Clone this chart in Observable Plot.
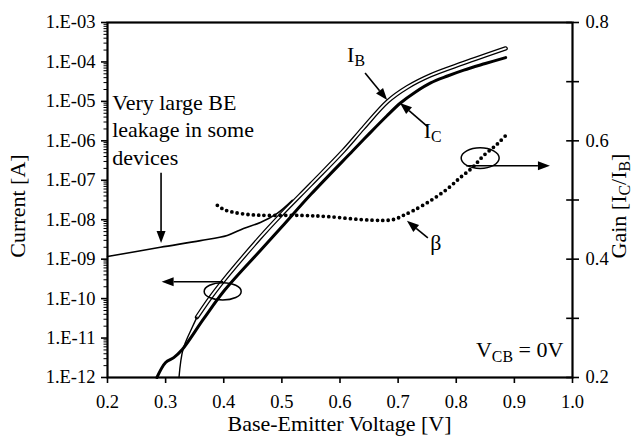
<!DOCTYPE html>
<html><head><meta charset="utf-8">
<script src="https://cdn.jsdelivr.net/npm/d3@7"></script>
<script src="https://cdn.jsdelivr.net/npm/@observablehq/plot@0.6"></script>
<style>
body{margin:0;background:#fff}
svg{font-family:"Liberation Serif","Times New Roman",serif}
</style>
</head><body><div id="chart"></div>
<script>
// ---- tick labels ----
const xTicks = [0.2, 0.3, 0.4, 0.5, 0.6, 0.7, 0.8, 0.9, 1.0];
const currentTicks = [1e-12, 1e-11, 1e-10, 1e-9, 1e-8, 1e-7, 1e-6, 1e-5, 1e-4, 1e-3];
const currentTickLabels = ["1.E-12","1.E-11","1.E-10","1.E-09","1.E-08","1.E-07","1.E-06","1.E-05","1.E-04","1.E-03"];
const gainTicks = [0.2, 0.3, 0.4, 0.5, 0.6, 0.7, 0.8];
const gainTickLabels = ["0.2","0.3","0.4","0.5","0.6","0.7","0.8"];
const minorMultipliers = [2, 3, 4, 5, 6, 7, 8, 9];

// ---- series ----
// Collector current I_C (thick line)
const icV = [0.285,0.300,0.314,0.329,0.365,0.401,0.463,0.500,0.550,0.622,0.650,0.680,0.704,0.730,0.756,0.785,0.813,0.850,0.885];
const icI = [1.0e-12,2.4e-12,3.2e-12,5.2e-12,3.0e-11,1.6e-10,1.66e-9,6.6e-9,4.4e-8,5.6e-7,1.5e-6,4.2e-6,9.1e-6,1.74e-5,2.95e-5,4.4e-5,6.2e-5,9.1e-5,1.29e-4];
// Base current I_B, low-bias thin part
const ibLowV = [0.323,0.330,0.346,0.354];
const ibLowI = [1.0e-12,5.2e-12,1.9e-11,3.4e-11];
// Base current I_B (hollow line)
const ibV = [0.354,0.386,0.463,0.500,0.550,0.606,0.640,0.682,0.716,0.756,0.812,0.885];
const ibI = [3.4e-11,1.6e-10,3.6e-9,1.4e-8,7.9e-8,5.6e-7,2.1e-6,1.0e-5,2.3e-5,4.6e-5,9.3e-5,2.2e-4];
// Leaky device base current
const leakV = [0.200,0.291,0.360,0.406,0.434,0.463,0.492,0.518];
const leakI = [1.17e-9,2.0e-9,2.95e-9,4.0e-9,6.0e-9,8.5e-9,1.45e-8,3.1e-8];
// Gain beta = IC/IB (right axis)
const betaV = [0.389,0.400,0.418,0.447,0.476,0.532,0.578,0.652,0.692,0.709,0.726,0.756,0.785,0.807,0.828,0.847,0.871,0.888];
const betaG = [0.491,0.484,0.479,0.475,0.474,0.474,0.472,0.466,0.467,0.474,0.482,0.499,0.519,0.538,0.555,0.575,0.595,0.612];

// ---- annotations (data units) ----
const leakLines = ["Very large BE", "leakage in some", "devices"];
const leakTextPos = {v: 0.209, i: 5.9e-6};
const ibLabelPos = {v: 0.613, i: 9.8e-5};
const icLabelPos = {v: 0.745, i: 1.15e-6};
const betaLabelPos = {v: 0.756, g: 0.415};
const vcbLabelPos = {v: 0.985, i: 3.2e-12};
const arrowsCurrent = [
  {v1: 0.293, i1: 1.5e-7, v2: 0.293, i2: 2.5e-9},
  {v1: 0.644, i1: 5.1e-5, v2: 0.682, i2: 1.05e-5},
  {v1: 0.752, i1: 2.2e-6, v2: 0.704, i2: 8.9e-6},
  {v1: 0.400, i1: 2.6e-10, v2: 0.294, i2: 2.6e-10}
];
const arrowsGain = [
  {v1: 0.752, g1: 0.435, v2: 0.716, g2: 0.464},
  {v1: 0.818, g1: 0.557, v2: 0.962, g2: 0.557}
];
const ellipseCurrent = {v: 0.399, i: 1.48e-10};
const ellipseGain = {v: 0.842, g: 0.570};

// gain -> equivalent position on the current (log) scale
const g2i = g => Math.pow(10, -12 + (g - 0.2) * 15);

const zip = (xs, ys) => xs.map((x, k) => ({x, y: ys[k]}));
const icData = zip(icV, icI);
const ibLowData = zip(ibLowV, ibLowI);
const ibData = zip(ibV, ibI);
const leakData = zip(leakV, leakI);
const betaData = betaV.map((x, k) => ({x, y: g2i(betaG[k])}));
const minorTicks = currentTicks.slice(0, -1).flatMap(d => minorMultipliers.map(m => d * m));
const fmtCur = d => currentTickLabels[currentTicks.findIndex(t => Math.abs(Math.log10(t) - Math.log10(d)) < 1e-6)];
const gainTickPos = gainTicks.map(g2i);
const fmtGain = d => gainTickLabels[gainTickPos.findIndex(t => Math.abs(Math.log10(t) - Math.log10(d)) < 1e-6)];

const curve = "catmull-rom";
const plot = Plot.plot({
  width: 634, height: 440,
  marginTop: 22, marginBottom: 63, marginLeft: 107, marginRight: 62,
  style: {fontFamily: "Liberation Serif, Times New Roman, serif", background: "white", color: "black", overflow: "visible"},
  x: {domain: [0.2, 1.0]},
  y: {type: "log", domain: [1e-12, 1e-3]},
  marks: [
    Plot.line(ibData, {x: "x", y: "y", curve, stroke: "black", strokeWidth: 4.4}),
    Plot.line(ibData, {x: "x", y: "y", curve, stroke: "white", strokeWidth: 1.9}),
    Plot.line(ibLowData, {x: "x", y: "y", curve, stroke: "black", strokeWidth: 1.4}),
    Plot.line(leakData, {x: "x", y: "y", curve, stroke: "black", strokeWidth: 1.6}),
    Plot.line(icData, {x: "x", y: "y", curve, stroke: "black", strokeWidth: 3}),
    Plot.line(betaData, {x: "x", y: "y", curve, stroke: "black", strokeWidth: 3.8, strokeDasharray: "0 5.4", strokeLinecap: "round"}),
    Plot.axisX({ticks: xTicks, tickFormat: d => d.toFixed(1), tickSize: 6, tickPadding: 11, fontSize: 18.5, strokeWidth: 1.6, label: null}),
    Plot.axisY({ticks: currentTicks, tickFormat: fmtCur, tickSize: 6, tickPadding: 6, fontSize: 18.5, strokeWidth: 1.6, label: null}),
    Plot.axisY({ticks: minorTicks, tickFormat: () => "", tickSize: 3.5, strokeWidth: 1, label: null}),
    Plot.axisY({anchor: "right", ticks: gainTickPos, tickFormat: fmtGain, tickSize: 6, tickPadding: 7, fontSize: 18.5, strokeWidth: 1.6, label: null}),
    Plot.ruleY(gainTickPos, {x1: 0.99, x2: 1.0, stroke: "black", strokeWidth: 1.6}),
    Plot.frame({stroke: "black", strokeWidth: 2.2})
  ]
});
document.getElementById("chart").appendChild(plot);

const svg = d3.select(plot);
const sx = plot.scale("x"), sy = plot.scale("y");
const X = v => sx.apply(v), Y = i => sy.apply(i), G = g => sy.apply(g2i(g));

function label(parent, x, y, parts, opts = {}) {
  const t = parent.append("text").attr("x", x).attr("y", y)
    .attr("font-size", opts.size || 22).attr("fill", "black")
    .attr("text-anchor", opts.anchor || "start");
  if (opts.transform) t.attr("transform", opts.transform).attr("x", 0).attr("y", 0);
  let shifted = false;
  for (const p of parts) {
    const sp = t.append("tspan").text(p.t);
    if (p.sub && !shifted) { sp.attr("dy", "0.28em").attr("font-size", "0.72em"); shifted = true; }
    else if (!p.sub && shifted) { sp.attr("dy", "-0.2em"); shifted = false; }
    else if (p.sub) sp.attr("font-size", "0.72em");
  }
  return t;
}

// axis titles
label(svg, 339.5, 431, [{t: "Base-Emitter Voltage [V]"}], {anchor: "middle"});
label(svg, 0, 0, [{t: "Current [A]"}], {anchor: "middle", transform: "translate(25,206) rotate(-90)"});
label(svg, 0, 0, [{t: "Gain [I"}, {t: "C", sub: true}, {t: "/I"}, {t: "B", sub: true}, {t: "]"}], {anchor: "middle", transform: "translate(626,206) rotate(-90)"});

// annotation texts
const lt = svg.append("text").attr("font-size", 22).attr("fill", "black").attr("text-anchor", "start");
leakLines.forEach((s, k) => lt.append("tspan").attr("x", X(leakTextPos.v)).attr("y", Y(leakTextPos.i)).attr("dy", (k * 1.25) + "em").text(s));
label(svg, X(ibLabelPos.v), Y(ibLabelPos.i), [{t: "I"}, {t: "B", sub: true}]);
label(svg, X(icLabelPos.v), Y(icLabelPos.i), [{t: "I"}, {t: "C", sub: true}]);
label(svg, X(betaLabelPos.v), G(betaLabelPos.g), [{t: "β"}]);
label(svg, X(vcbLabelPos.v), Y(vcbLabelPos.i), [{t: "V"}, {t: "CB", sub: true}, {t: " = 0V"}], {anchor: "end"});

// arrows
function arrow(x1, y1, x2, y2, len = 12, half = 4.5) {
  const a = Math.atan2(y2 - y1, x2 - x1);
  const bx = x2 - len * Math.cos(a), by = y2 - len * Math.sin(a);
  svg.append("line").attr("x1", x1).attr("y1", y1).attr("x2", bx).attr("y2", by)
    .attr("stroke", "black").attr("stroke-width", 1.6);
  const px = -Math.sin(a) * half, py = Math.cos(a) * half;
  svg.append("polygon").attr("points", `${x2},${y2} ${bx + px},${by + py} ${bx - px},${by - py}`).attr("fill", "black");
}
arrowsCurrent.forEach(d => arrow(X(d.v1), Y(d.i1), X(d.v2), Y(d.i2)));
arrowsGain.forEach(d => arrow(X(d.v1), G(d.g1), X(d.v2), G(d.g2)));

// ellipses
svg.append("ellipse").attr("cx", X(ellipseCurrent.v)).attr("cy", Y(ellipseCurrent.i)).attr("rx", 18.5).attr("ry", 8.7)
  .attr("fill", "none").attr("stroke", "black").attr("stroke-width", 1.5);
svg.append("ellipse").attr("cx", X(ellipseGain.v)).attr("cy", G(ellipseGain.g)).attr("rx", 19).attr("ry", 10.3)
  .attr("fill", "none").attr("stroke", "black").attr("stroke-width", 1.5);
</script>
</body></html>
